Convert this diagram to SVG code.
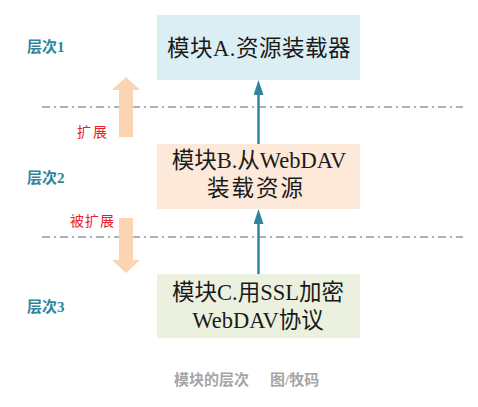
<svg xmlns="http://www.w3.org/2000/svg" width="478" height="407" viewBox="0 0 478 407">
<style>
.box text{font-family:"Liberation Serif","Noto Sans CJK SC",serif;font-size:22.5px;fill:#1a1a1a;text-anchor:middle}
.lvl{font-family:"Liberation Serif","Noto Sans CJK SC",serif;font-size:15px;font-weight:bold;fill:#31849b}
.ext{font-family:"Liberation Serif","Noto Sans CJK SC",serif;font-size:14px;fill:#e8202a}
.sep{stroke:#4a6b74;stroke-width:1;stroke-dasharray:8 4 2 4;fill:none}
.conn{stroke:#31849b;stroke-width:2.5;fill:none}
.big{fill:#fbd4b4}
.cap{font-family:"Liberation Serif","Noto Sans CJK SC",serif;font-size:15px;font-weight:bold;fill:#a6a6a6}
</style>
<defs>
<marker id="ah" viewBox="0 0 15 10" refX="0" refY="5" markerWidth="6" markerHeight="4" orient="auto" markerUnits="strokeWidth">
<path d="M0,0 L15,5 L0,10 z" fill="#31849b"/>
</marker>
</defs>
<rect width="478" height="407" fill="#ffffff"/>
<g id="separators">
<line class="sep" x1="42" y1="107" x2="463" y2="107"/>
<line class="sep" x1="42" y1="237" x2="463" y2="237"/>
</g>
<g id="levels">
<text class="lvl" x="27" y="52">层次1</text>
<text class="lvl" x="27" y="183">层次2</text>
<text class="lvl" x="27" y="312">层次3</text>
</g>
<g id="extend-up">
<polygon class="big" points="119,137 133,137 133,90 140,90 126,77 112,90 119,90"/>
<text class="ext" x="77" y="137" letter-spacing="2">扩展</text>
</g>
<g id="extend-down">
<polygon class="big" points="119,218 133,218 133,260 140,260 126,273 112,260 119,260"/>
<text class="ext" x="70" y="226" letter-spacing="1">被扩展</text>
</g>
<g id="nodeA" class="box">
<rect x="157" y="15" width="203" height="65" fill="#dbeef3"/>
<text x="259" y="56" letter-spacing="0.5">模块A.资源装载器</text>
</g>
<g id="nodeB" class="box">
<rect x="157" y="144" width="203" height="65" fill="#fde9d9"/>
<text x="259" y="168">模块B.从WebDAV</text>
<text x="256" y="196" letter-spacing="2">装载资源</text>
</g>
<g id="nodeC" class="box">
<rect x="157" y="274" width="203" height="64" fill="#ebf1de"/>
<text x="258" y="300">模块C.用SSL加密</text>
<text x="258" y="328">WebDAV协议</text>
</g>
<g id="connectors">
<line class="conn" x1="258.5" y1="144" x2="258.5" y2="95" marker-end="url(#ah)"/>
<line class="conn" x1="258.5" y1="274" x2="258.5" y2="224" marker-end="url(#ah)"/>
</g>
<text class="cap" y="385"><tspan x="174">模块的层次</tspan><tspan x="270">图/牧码</tspan></text>
</svg>
